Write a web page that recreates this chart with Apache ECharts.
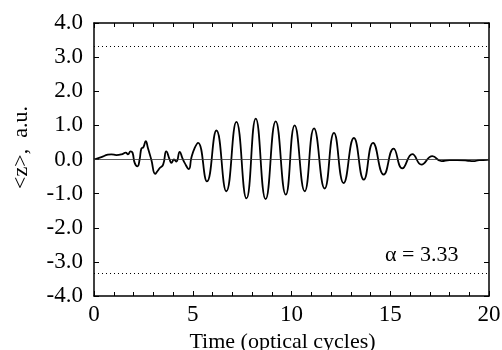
<!DOCTYPE html>
<html>
<head>
<meta charset="utf-8">
<script src="https://cdn.jsdelivr.net/npm/echarts@6/dist/echarts.min.js"></script>
<style>
  html, body { margin: 0; padding: 0; background: #fff; }
  #chart { width: 502px; height: 350px; }
</style>
</head>
<body>
<div id="chart"></div>
<script>
// time in optical cycles (wiggles, then peaks and troughs)
const time = [
  0, 0.37, 0.7, 0.88, 1.13, 1.39, 1.61, 1.72, 1.85, 1.95,
  2.06, 2.2, 2.31, 2.4, 2.5, 2.62, 2.73, 2.9, 3.1, 3.2,
  3.33, 3.5, 3.66, 3.83, 3.92, 4.05, 4.17, 4.34, 4.47, 4.59,
  4.8, 4.93, 5.1, 5.27, 5.72, 6.2, 6.7, 7.21, 7.72, 8.19,
  8.69, 9.2, 9.71, 10.16, 10.67, 11.14, 11.68, 12.15, 12.64, 13.16,
  13.66, 14.13, 14.67, 15.17, 15.61, 16.12, 16.58, 17.13, 17.6, 18.0,
  18.4, 18.87, 19.2, 19.5, 19.9, 20
]
// <z> in a.u.
const zValues = [
  0, 0.07, 0.14, 0.15, 0.13, 0.15, 0.2, 0.15, 0.24, 0.2,
  -0.1, -0.2, 0, 0.32, 0.36, 0.54, 0.34, 0, -0.42, -0.35,
  -0.25, -0.15, 0.24, 0, -0.1, 0, -0.06, 0.22, 0.05, -0.1,
  -0.28, 0.05, 0.34, 0.49, -0.64, 0.85, -0.93, 1.1, -1.14, 1.2,
  -1.16, 1.12, -1.03, 1.0, -0.93, 0.91, -0.85, 0.78, -0.69, 0.63,
  -0.59, 0.49, -0.44, 0.32, -0.26, 0.16, -0.15, 0.1, -0.05, -0.02,
  -0.02, -0.03, -0.05, -0.02, -0.01, 0
]
const limitLines = [3.33, -3.33]
const alphaText = 'α = 3.33'

const font = 'Liberation Serif'
const chart = echarts.init(document.getElementById('chart'))

const baseAxis = {
  axisLine: { show: true, onZero: false, lineStyle: { color: '#000', width: 1.5 } },
  axisTick: { show: true, inside: true, length: 5, lineStyle: { color: '#000' } },
  splitLine: { show: false }
}

const option = {
  animation: false,
  grid: { left: 94, right: 13, top: 23, bottom: 54, outerBoundsMode: 'none' },
  xAxis: [
    {
      ...baseAxis,
      type: 'value', min: 0, max: 20, interval: 5,
      minorTick: { show: true, splitNumber: 5, length: 4, lineStyle: { color: '#000' } },
      axisLabel: { fontFamily: font, fontSize: 23, color: '#000', margin: 7 },
      name: 'Time (optical cycles)',
      nameLocation: 'middle',
      nameGap: 31,
      nameTextStyle: { fontFamily: font, fontSize: 22, color: '#000', padding: [0, 18, 0, 0] }
    },
    {
      ...baseAxis,
      type: 'value', position: 'top', min: 0, max: 20, interval: 5,
      minorTick: { show: true, splitNumber: 5, length: 4, lineStyle: { color: '#000' } },
      axisLabel: { show: false }
    }
  ],
  yAxis: [
    {
      ...baseAxis,
      type: 'value', min: -4, max: 4, interval: 1,
      axisLabel: {
        fontFamily: font, fontSize: 23, color: '#000', margin: 11,
        formatter: (v) => v.toFixed(1)
      },
      name: '<z>,  a.u.',
      nameLocation: 'middle',
      nameGap: 62,
      nameTextStyle: { fontFamily: font, fontSize: 22, color: '#000', padding: [0, 0, 0, 24] }
    },
    {
      ...baseAxis,
      type: 'value', position: 'right', min: -4, max: 4, interval: 1,
      axisLabel: { show: false }
    }
  ],
  series: [
    {
      type: 'line',
      data: time.map((t, i) => [t, zValues[i]]),
      showSymbol: false,
      smooth: 0.5,
      lineStyle: { color: '#000', width: 1.8 },
      z: 3,
      markLine: {
        silent: true,
        symbol: 'none',
        label: { show: false },
        data: [
          { yAxis: 0, lineStyle: { type: 'solid', color: '#333', width: 0.8 } },
          ...limitLines.map(v => ({ yAxis: v, lineStyle: { type: [1, 3], color: '#000', width: 1 } }))
        ]
      }
    }
  ],
  graphic: [
    {
      type: 'text',
      left: 385,
      top: 244,
      style: { text: alphaText, fontFamily: font, fontSize: 22, fill: '#000' }
    }
  ]
}

chart.setOption(option)
</script>
</body>
</html>
